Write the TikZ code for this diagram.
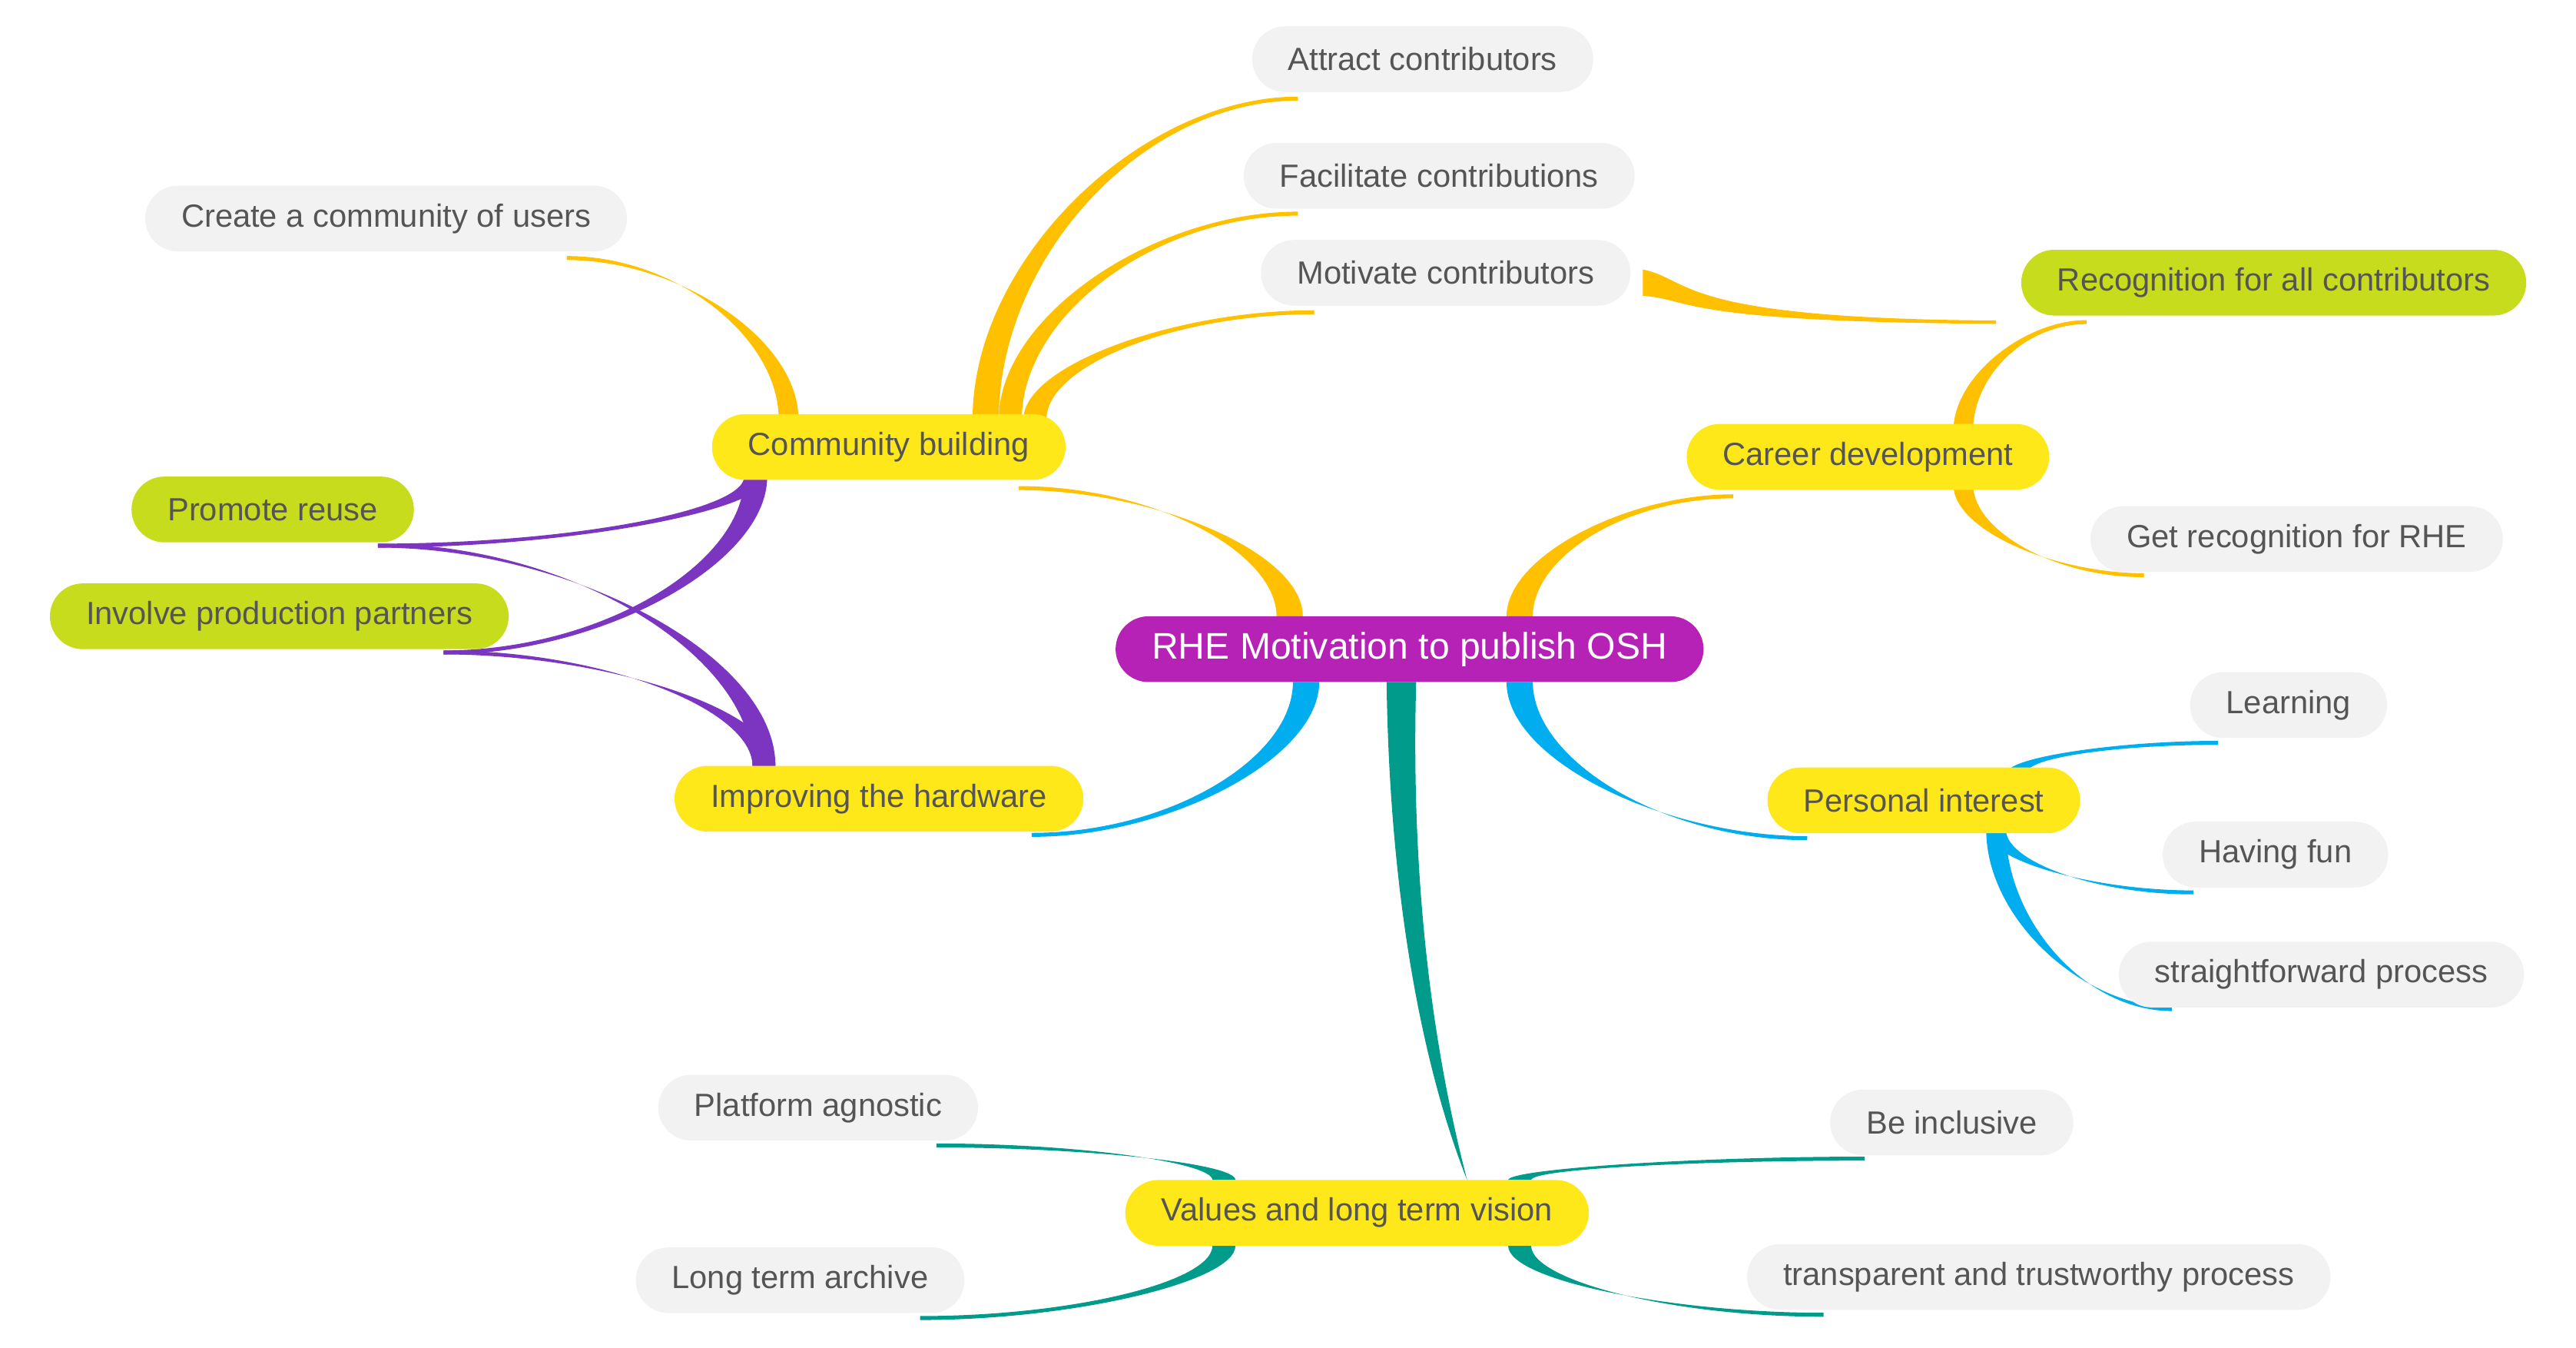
\documentclass[tikz,border=0pt]{standalone}
\usepackage{fontspec}
\setmainfont{Liberation Sans}
\begin{document}
\definecolor{gold}{HTML}{FFC000}
\definecolor{purp}{HTML}{7B35C0}
\definecolor{sky}{HTML}{00AEEF}
\definecolor{teal2}{HTML}{009B8A}
\definecolor{mag}{HTML}{B522B5}
\definecolor{yel}{HTML}{FFE81A}
\definecolor{lime}{HTML}{C8DC1E}
\definecolor{pale}{HTML}{F2F2F2}
\definecolor{txt}{HTML}{555555}
\newcommand\br[6]{\fill[#1] ({#2-#6},#3) .. controls ({#2-#6},{(#3+#5)/2}) and ({(#2+#4)/2},{#5-1.2}) .. (#4,{#5-1.2}) -- (#4,{#5+1.2}) .. controls ({(#2+#4)/2},{#5+1.2}) and ({#2+#6},{(#3+#5)/2}) .. ({#2+#6},#3) -- cycle;}
\begin{tikzpicture}[x=1pt,y=-1pt,
 base/.style={rounded corners=20pt,minimum height=40pt,inner xsep=22pt,font=\fontsize{19.5}{22}\selectfont,text=txt},
 yn/.style={base,fill=yel},
 gn/.style={base,fill=lime},
 pn/.style={base,fill=pale},
 cn/.style={base,fill=mag,text=white,font=\fontsize{22.5}{25}\selectfont}]
\useasboundingbox (0,0) rectangle (1568,820);
% branches
\br{gold}{785}{375}{620}{297}{8}
\br{gold}{925}{375}{1055}{302}{8}
\br{gold}{480}{255}{345}{157}{6}
\br{gold}{600}{255}{790}{60}{8}
\br{gold}{615}{255}{790}{130}{7}
\br{gold}{630}{255}{800}{190}{7}
\fill[gold] (1000,164) .. controls (1030,170) and (1020,194) .. (1215,195) -- (1215,197) .. controls (1020,196) and (1030,182) .. (1000,180) -- cycle;
\br{gold}{1195}{262}{1270}{196}{6}
\br{gold}{1195}{295}{1305}{350}{6}
\br{purp}{460}{290}{230}{332}{7}
\br{purp}{460}{290}{270}{397}{7}
\br{purp}{465}{466}{230}{332}{7}
\br{purp}{465}{466}{270}{397}{7}
\br{sky}{795}{415}{628}{508}{8}
\br{sky}{925}{415}{1100}{510}{8}
\br{sky}{1228}{470}{1350}{452}{6}
\br{sky}{1215}{505}{1335}{543}{6}
\br{sky}{1215}{505}{1322}{614}{6}
\fill[teal2] (844,415) .. controls (846,560) and (870,660) .. (893,718) .. controls (878,660) and (858,560) .. (862,415) -- cycle;
\br{teal2}{745}{718}{570}{697}{7}
\br{teal2}{745}{758}{560}{802}{7}
\br{teal2}{925}{718}{1135}{705}{7}
\br{teal2}{925}{758}{1110}{800}{7}
% nodes
\node[cn] (c) at (858,395) {RHE Motivation to publish OSH};
\node[yn] (cb) at (541,272) {Community building};
\node[yn] (cd) at (1137,278) {Career development};
\node[yn] (ih) at (535,486) {Improving the hardware};
\node[yn] (pi) at (1171,487) {Personal interest};
\node[yn] (vl) at (826,738) {Values and long term vision};
\node[gn] (rc) at (1384,172) {Recognition for all contributors};
\node[gn] (pr) at (166,310) {Promote reuse};
\node[gn] (ip) at (170,375) {Involve production partners};
\node[pn] (ac) at (866,36) {Attract contributors};
\node[pn] (fc) at (876,107) {Facilitate contributions};
\node[pn] (mc) at (880,166) {Motivate contributors};
\node[pn] (cc) at (235,133) {Create a community of users};
\node[pn] (gr) at (1398,328) {Get recognition for RHE};
\node[pn] (le) at (1393,429) {Learning};
\node[pn] (hf) at (1385,520) {Having fun};
\node[pn] (sp) at (1413,593) {straightforward process};
\node[pn] (pa) at (498,674) {Platform agnostic};
\node[pn] (lt) at (487,779) {Long term archive};
\node[pn] (bi) at (1188,683) {Be inclusive};
\node[pn] (tt) at (1241,777) {transparent and trustworthy process};
\end{tikzpicture}
\end{document}
